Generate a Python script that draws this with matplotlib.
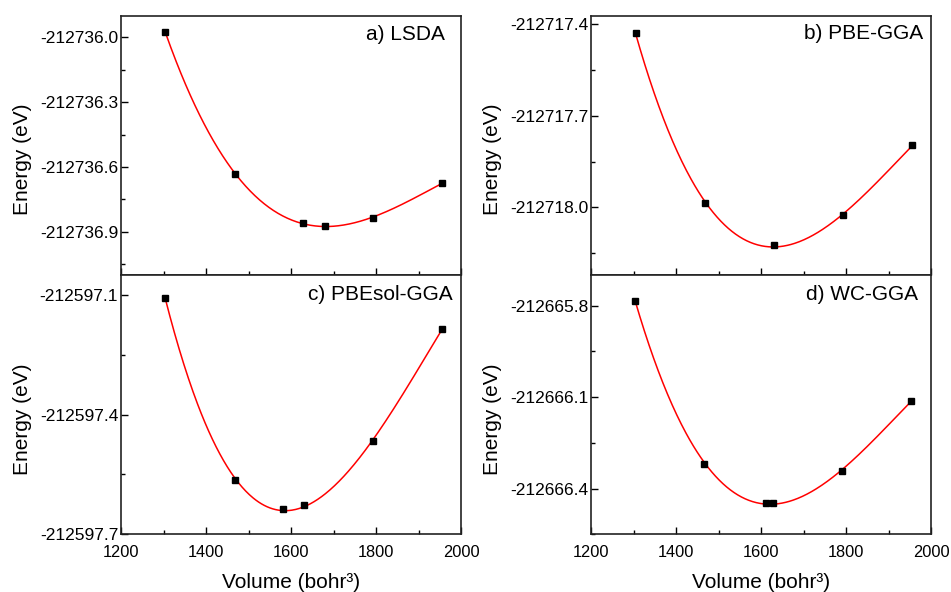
import numpy as np
import matplotlib
matplotlib.use("Agg")
import matplotlib.pyplot as plt
from matplotlib.ticker import MultipleLocator, FormatStrFormatter

plt.rcParams['font.family'] = ['Liberation Sans', 'DejaVu Sans']

# ---- data ----
labels = ["a) LSDA", "b) PBE-GGA", "c) PBEsol-GGA", "d) WC-GGA"]

vol_a = [1304, 1468, 1629, 1679, 1793, 1955]
en_a = [-212735.974, -212736.634, -212736.858, -212736.872, -212736.838, -212736.675]

vol_b = [1305, 1468, 1631, 1794, 1956]
en_b = [-212717.430, -212717.985, -212718.124, -212718.025, -212717.797]

vol_c = [1304, 1468, 1581, 1630, 1793, 1955]
en_c = [-212597.107, -212597.565, -212597.637, -212597.627, -212597.467, -212597.186]

vol_d = [1304, 1467, 1612, 1629, 1791, 1954]
en_d = [-212665.784, -212666.321, -212666.447, -212666.447, -212666.343, -212666.112]

ylims = [(-212737.1, -212735.9), (-212718.222, -212717.372),
         (-212597.7, -212597.05), (-212666.55, -212665.7)]

series = [(vol_a, en_a), (vol_b, en_b), (vol_c, en_c), (vol_d, en_d)]

fig = plt.figure(figsize=(9.51, 5.92), dpi=100)
W, H = 951, 592
col_x = [121, 591]
col_w = 340
row_top = [15.7, 275]
row_h = 259.3

positions = [(0, 0), (1, 0), (0, 1), (1, 1)]  # (col,row)
label_xy = [(0.954, 0.929), (0.977, 0.932), (0.976, 0.926), (0.963, 0.925)]

for i, ((v, e), (c, r)) in enumerate(zip(series, positions)):
    left = col_x[c] / W
    bottom = 1 - (row_top[r] + row_h) / H
    ax = fig.add_axes([left, bottom, col_w / W, row_h / H])
    v = np.array(v, dtype=float)
    e = np.array(e, dtype=float)
    e0 = e.mean()
    coef = np.polyfit(v, e - e0, 3)
    vv = np.linspace(v.min(), v.max(), 300)
    ax.plot(vv, np.polyval(coef, vv) + e0, color='#ff0000', lw=1.1, zorder=2)
    ax.plot(v, e, 's', color='black', ms=4, zorder=3)
    ax.set_xlim(1200, 2000)
    ax.set_ylim(*ylims[i])
    ax.xaxis.set_major_locator(MultipleLocator(200))
    ax.xaxis.set_minor_locator(MultipleLocator(100))
    ax.yaxis.set_major_locator(MultipleLocator(0.3))
    ax.yaxis.set_minor_locator(MultipleLocator(0.15))
    ax.yaxis.set_major_formatter(FormatStrFormatter('%.1f'))
    ax.tick_params(which='both', direction='in', top=False, right=False)
    ax.tick_params(which='major', length=5, width=1.0)
    ax.tick_params(which='minor', length=3, width=1.0)
    ax.tick_params(axis='y', labelsize=12.5, pad=2)
    ax.tick_params(axis='x', labelsize=11.8, pad=8)
    for s in ax.spines.values():
        s.set_linewidth(1.2)
        s.set_color('#222222')
    if r == 0:
        ax.tick_params(axis='x', labelbottom=False)
    else:
        ax.set_xlabel("Volume (bohr³)", fontsize=15, labelpad=9)
    ax.set_ylabel("Energy (eV)", fontsize=15)
    ax.yaxis.set_label_coords(-0.262, 0.445)
    ax.text(label_xy[i][0], label_xy[i][1], labels[i], transform=ax.transAxes,
            ha='right', va='center', fontsize=15)

fig.savefig("out.png", dpi=100)
